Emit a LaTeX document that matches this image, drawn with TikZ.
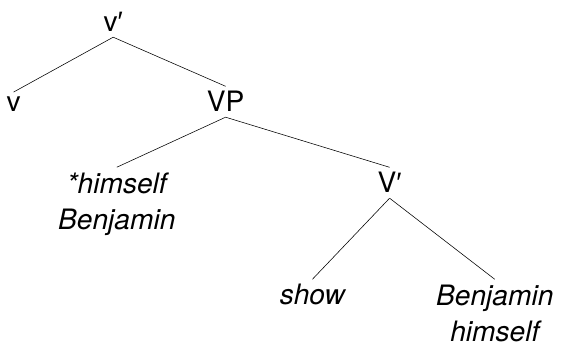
\documentclass[tikz,border=0pt]{standalone}
\usepackage{fontspec}
\setmainfont{TeX Gyre Heros}
\newfontfamily\primefont{Liberation Sans}
\usepackage{tikz}

\newcommand{\barprime}{{\primefont ′}}

\tikzset{
  cat/.style={inner sep=3.5pt, anchor=base},
  word/.style={cat, font=\fontsize{20}{26.3}\selectfont\itshape, align=center},
}

\begin{document}
\begin{tikzpicture}[font=\fontsize{20}{26.3}\selectfont]
\useasboundingbox (0,0) rectangle (14.025,8.725);
%top
\node[cat] (vbar) at (2.83,7.925) {v\barprime};
%v and VP
\node[cat] (v) at (0.34,5.925) {v};
\node[cat] (vp) at (5.64,5.925) {VP};
%specifier and V' (base of a two-line node is its last line)
\node[word] (spec) at (2.92,2.975) {*himself\\Benjamin};
\node[cat] (Vbar) at (9.74,3.9) {V\barprime};
%verb and object
\node[word] (show) at (7.81,1.1) {show};
\node[word] (obj) at (12.37,0.175) {Benjamin\\himself};
%branches
\draw (vbar.south) -- (v.north);
\draw (vbar.south) -- (vp.north);
\draw (vp.south) -- (spec.north);
\draw (vp.south) -- (Vbar.north);
\draw (Vbar.south) -- (show.north);
\draw (Vbar.south) -- (obj.north);
\end{tikzpicture}
\end{document}
